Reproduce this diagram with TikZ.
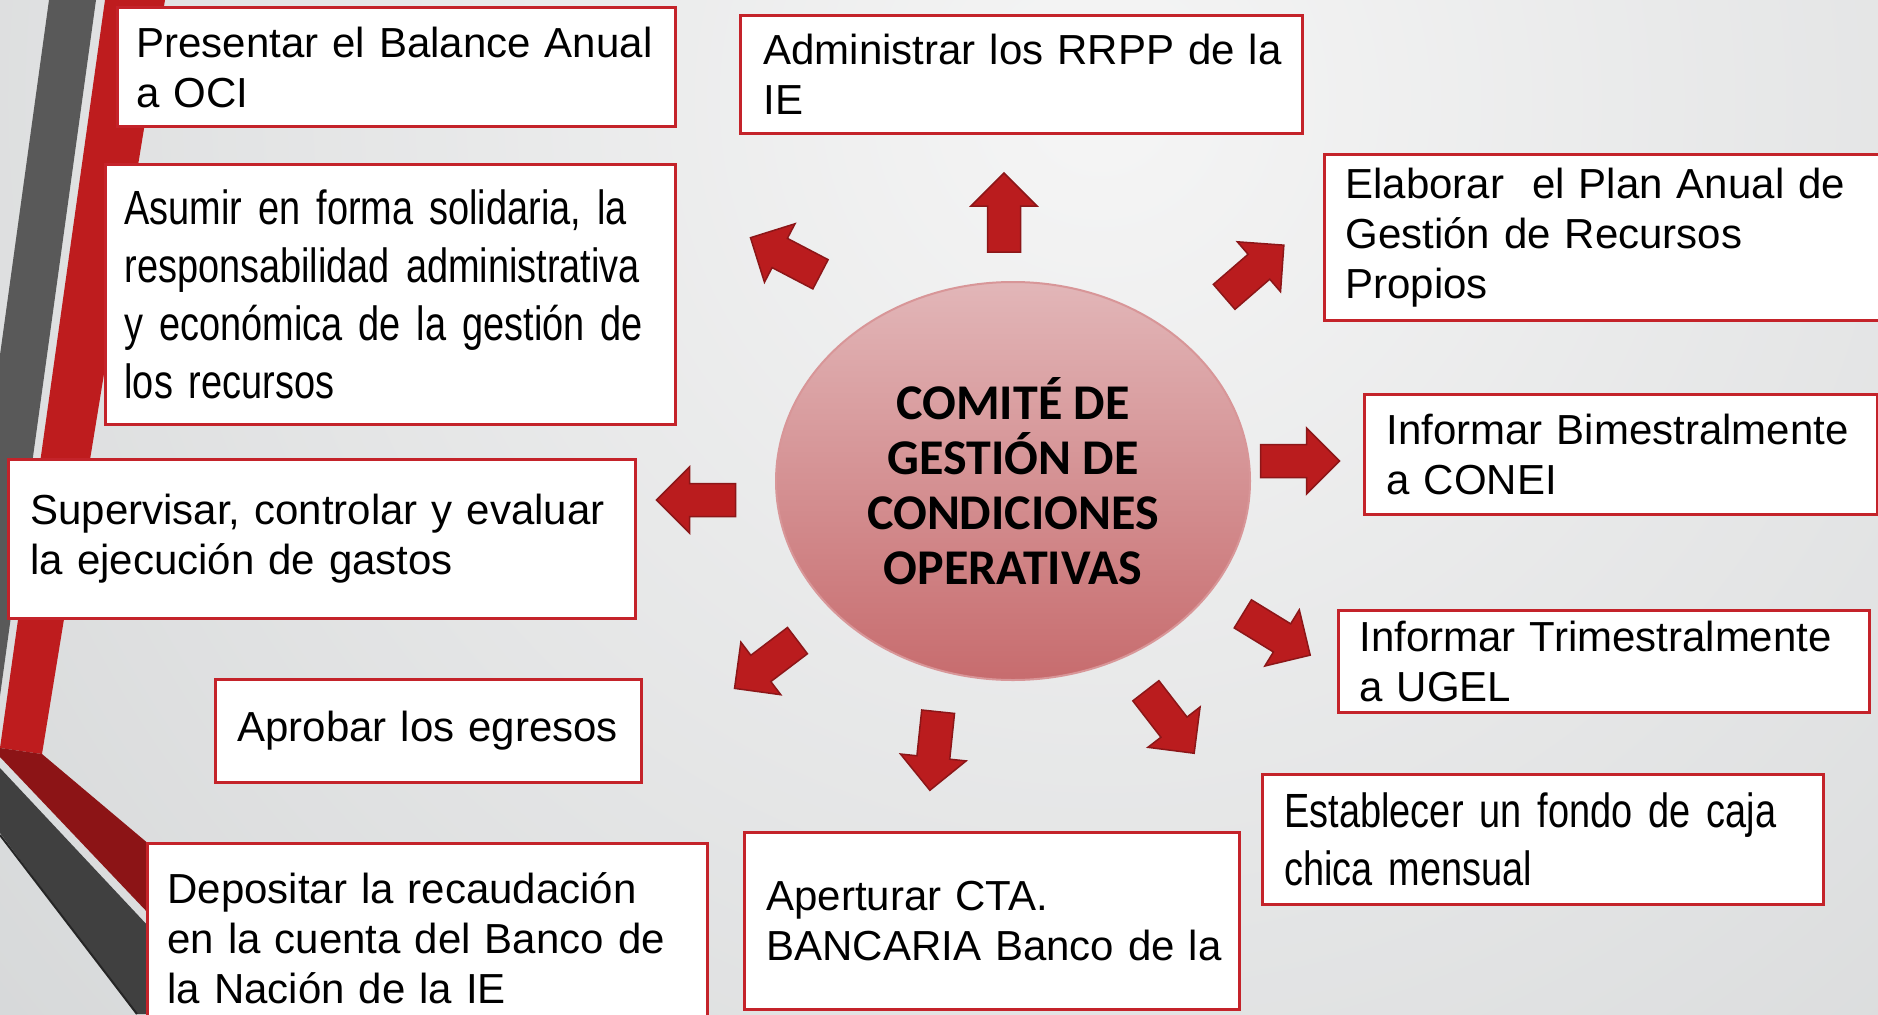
\documentclass[tikz,border=0pt]{standalone}
\usepackage{fontspec}
\setmainfont{Liberation Sans}
\newfontfamily\narrowsans[FakeStretch=0.79]{Liberation Sans}
\newfontfamily\comitefont{Carlito}
\usetikzlibrary{shapes.geometric}

\definecolor{bglight}{RGB}{245,245,245}
\definecolor{bgdark}{RGB}{178,182,184}
\definecolor{boxred}{RGB}{196,35,42}
\definecolor{arrowfill}{RGB}{186,28,30}
\definecolor{arrowline}{RGB}{140,22,24}
\definecolor{ovaltop}{RGB}{226,182,184}
\definecolor{ovalbottom}{RGB}{199,108,110}
\definecolor{ovalline}{RGB}{216,150,152}
\definecolor{darkband}{RGB}{89,89,89}
\definecolor{redband}{RGB}{190,28,30}
\definecolor{foldred}{RGB}{140,20,22}
\definecolor{lowband}{RGB}{64,64,64}

\pgfdeclareradialshading{slidebg}{\pgfpoint{0bp}{0bp}}{color(0bp)=(bglight); color(50bp)=(bgdark)}

\begin{document}
\begin{tikzpicture}[x=1pt, y=-1pt,
    task/.style={draw=boxred, line width=3pt, fill=white, anchor=north west,
      align=left, inner ysep=0pt, font=\fontsize{42}{50}\selectfont},
    narrowtask/.style={task, font=\narrowsans\fontsize{48}{58}\selectfont},
    blockarrow/.style={fill=arrowfill, draw=arrowline, line width=1.5pt, line join=miter}]

    \useasboundingbox (0,0) rectangle (1878,1014);
    \clip (0,0) rectangle (1878,1014);
    \shade[shading=slidebg] (1100,100) circle [radius=1600pt];

    \fill[darkband] (49,0) -- (96,0) -- (0,696) -- (0,355) -- cycle;
    \fill[redband] (105,0) -- (165,0) -- (42,754) -- (0,748) -- cycle;
    \fill[foldred] (0,748) -- (42,754) -- (150,845) -- (150,915) -- (0,757) -- cycle;
    \fill[lowband] (0,768) -- (150,928) -- (150,1014) -- (136,1014) -- (0,833) -- cycle;
    \draw[line width=2pt, black!85] (0,835) -- (137,1014);

    \node[task, minimum width=558pt, minimum height=119pt, text width=520pt, inner xsep=19pt]
      (presentar) at (116,6) {\mbox{Presentar el Balance Anual}\\a OCI};
    \node[task, minimum width=562pt, minimum height=118pt, text width=516pt, inner xsep=23pt]
      (administrar) at (739,14) {\mbox{Administrar los RRPP de la}\\IE};
    \node[narrowtask, minimum width=570pt, minimum height=260pt, text width=532pt, inner xsep=19pt]
      (asumir) at (104,163) {\mbox{Asumir en forma solidaria, la}\\\mbox{responsabilidad administrativa}\\
        \mbox{y económica de la gestión de}\\\mbox{los recursos}};
    \node[task, minimum width=600pt, minimum height=166pt, text width=558pt, inner xsep=21pt]
      (elaborar) at (1323,153) {\mbox{Elaborar\ \ el Plan Anual de}\\\mbox{Gestión de Recursos}\\Propios};
    \node[task, minimum width=513pt, minimum height=120pt, text width=469pt, inner xsep=22pt]
      (bimestral) at (1363,393) {\mbox{Informar Bimestralmente}\\a CONEI};
    \node[task, minimum width=627pt, minimum height=159pt, text width=583pt, inner xsep=22pt]
      (supervisar) at (7,458) {\mbox{Supervisar, controlar y evaluar}\\\mbox{la ejecución de gastos}};
    \node[task, minimum width=531pt, minimum height=102pt, text width=489pt, inner xsep=21pt]
      (trimestral) at (1337,609) {\mbox{Informar Trimestralmente}\\a UGEL};
    \node[task, minimum width=426pt, minimum height=103pt, text width=382pt, inner xsep=22pt]
      (aprobar) at (214,678) {\mbox{Aprobar los egresos}};
    \node[narrowtask, minimum width=561pt, minimum height=130pt, text width=517pt, inner xsep=22pt]
      (caja) at (1261,773) {\mbox{Establecer un fondo de caja}\\\mbox{chica mensual}};
    \node[task, minimum width=560pt, minimum height=190pt, text width=520pt, inner xsep=20pt]
      (depositar) at (146,842) {\mbox{Depositar la recaudación}\\\mbox{en la cuenta del Banco de}\\
        \mbox{la Nación de la IE}};
    \node[task, minimum width=495pt, minimum height=177pt, text width=451pt, inner xsep=22pt]
      (cuenta) at (743,831) {\mbox{Aperturar CTA.}\\\mbox{BANCARIA Banco de la}};

    \foreach \cx/\cy/\ang in {1004/212.5/90, 785.5/256/152.4, 1254/271/40.9, 1300/461/0,
        1276.5/634.5/-31.5, 1170/722/-52.3, 934/751/-96, 766/664.5/-142.8, 696/500/180}
      \draw[blockarrow, shift={(\cx,\cy)}, rotate=\ang]
        (-39.5,-16.5) -- (6.5,-16.5) -- (6.5,-33) -- (39.5,0) -- (6.5,33) -- (6.5,16.5) -- (-39.5,16.5) -- cycle;

    \node[ellipse, minimum width=474pt, minimum height=398pt, top color=ovaltop, bottom color=ovalbottom,
      draw=ovalline, line width=2pt, align=center, inner sep=0pt,
      font=\comitefont\bfseries\fontsize{50}{55}\selectfont]
      (comite) at (1013,481) {COMITÉ DE\\GESTIÓN DE\\CONDICIONES\\OPERATIVAS};
\end{tikzpicture}
\end{document}
